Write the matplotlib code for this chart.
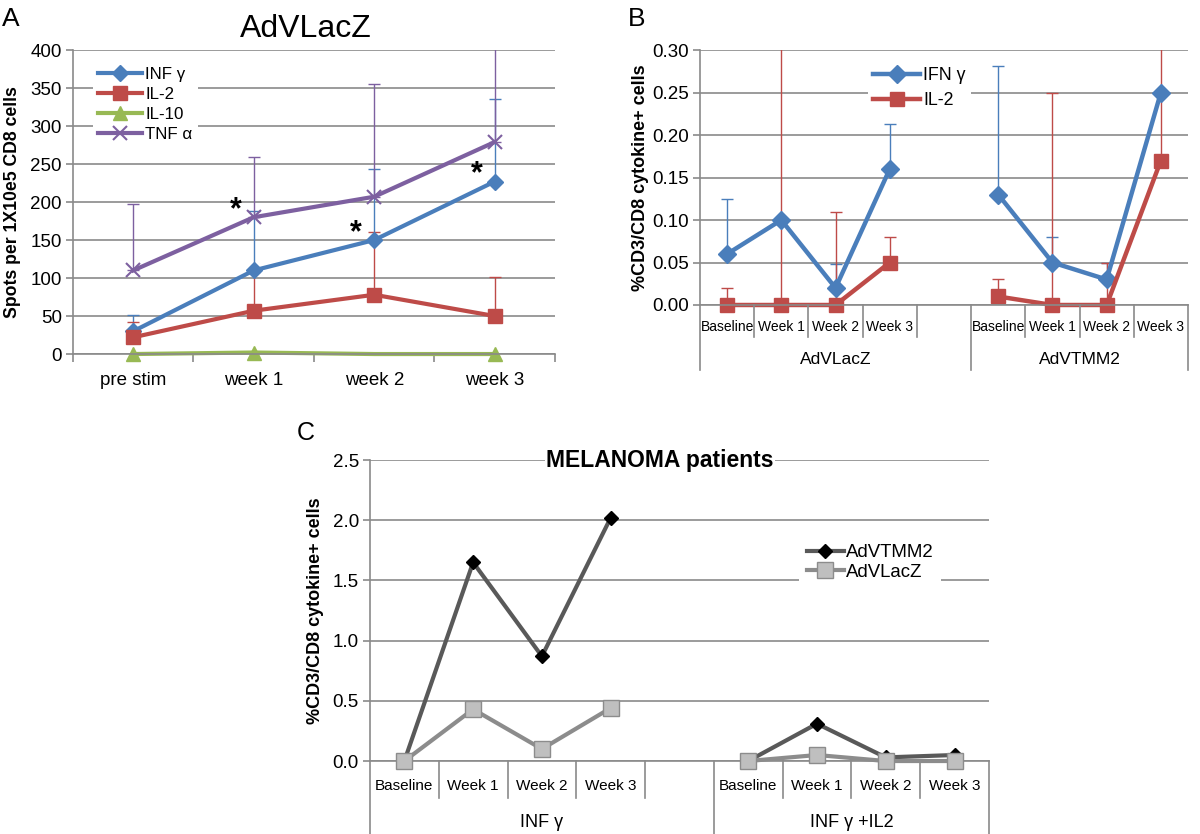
import numpy as np
import matplotlib.pyplot as plt

plt.rcParams['font.family'] = ['Liberation Sans', 'DejaVu Sans']

# ---------------- panel A data (AdVLacZ, ELISPOT)
a_cats = ['pre stim', 'week 1', 'week 2', 'week 3']
a_names = ['INF γ', 'IL-2', 'IL-10', 'TNF α']
a_inf = [30, 110, 150, 227]
a_il2 = [22, 57, 78, 50]
a_il10 = [0, 2, 0, 0]
a_tnf = [110, 180, 207, 279]
# top of the (upper only) error bars
a_inf_top = [51, 188, 243, 336]
a_il2_top = [42, 108, 160, 101]
a_il10_top = [np.nan, np.nan, np.nan, np.nan]
a_tnf_top = [197, 259, 355, 430]
# significance stars: (category index, series value it sits next to)
a_star_idx = [1, 2, 3]
a_star_val = [180, 150, 227]

# ---------------- panel B data
b_cats = ['Baseline', 'Week 1', 'Week 2', 'Week 3']
b_groups = ['AdVLacZ', 'AdVTMM2']
b_names = ['IFN γ', 'IL-2']
b_ifn_lacz = [0.06, 0.10, 0.02, 0.16]
b_ifn_tmm2 = [0.13, 0.05, 0.03, 0.25]
b_il2_lacz = [0.00, 0.00, 0.00, 0.05]
b_il2_tmm2 = [0.01, 0.00, 0.00, 0.17]
b_ifn_lacz_top = [0.125, np.nan, 0.048, 0.213]
b_ifn_tmm2_top = [0.281, 0.080, 0.050, np.nan]
b_il2_lacz_top = [0.020, 0.40, 0.110, 0.080]
b_il2_tmm2_top = [0.030, 0.250, 0.050, 0.40]

# ---------------- panel C data (MELANOMA patients)
c_cats = ['Baseline', 'Week 1', 'Week 2', 'Week 3']
c_groups = ['INF γ', 'INF γ +IL2']
c_names = ['AdVTMM2', 'AdVLacZ']
c_tmm2_inf = [0.0, 1.65, 0.87, 2.02]
c_tmm2_infil2 = [0.0, 0.31, 0.03, 0.05]
c_lacz_inf = [0.0, 0.43, 0.10, 0.44]
c_lacz_infil2 = [0.0, 0.05, 0.0, 0.0]

blue, red, green, purple = '#4A7EBB', '#BE4B48', '#98B954', '#7D60A0'
grid_c = '#8a8a8a'

fig = plt.figure(figsize=(12, 8.34), dpi=100)
axA = fig.add_axes([0.0608, 0.5755, 0.4017, 0.3645])
axB = fig.add_axes([0.5833, 0.6343, 0.4067, 0.3057])
axC = fig.add_axes([0.3083, 0.0875, 0.5158, 0.3609])


def style(ax):
    for s in ['top', 'right']:
        ax.spines[s].set_visible(False)
    for s in ['left', 'bottom']:
        ax.spines[s].set_color(grid_c)
        ax.spines[s].set_linewidth(1.2)
    ax.yaxis.grid(True, color=grid_c, linewidth=1.2)
    ax.set_axisbelow(True)
    ax.tick_params(axis='y', length=5, color=grid_c, width=1.2, labelsize=13.5, pad=3)


def upper_err(ax, x, y, top, color):
    x = np.asarray(x, float)
    y = np.asarray(y, float)
    top = np.asarray(top, float)
    ok = np.isfinite(top) & np.isfinite(y)
    ax.errorbar(x[ok], y[ok], yerr=[np.zeros(ok.sum()), top[ok] - y[ok]],
                fmt='none', ecolor=color, elinewidth=1, capsize=4, capthick=1)


def group_axis(ax, cats, groups, d1, d2, ylab, ygrp, fs, fs_grp):
    n = len(cats)
    labels = cats + [''] + cats
    total = len(labels)
    trans = ax.get_xaxis_transform()
    ax.set_xticks([])
    ax.spines['left'].set_visible(False)
    for k in range(total + 1):
        xb = k - 0.5
        depth = d2 if k in (0, n + 1, total) else d1
        top = 1 if k == 0 else 0
        ax.plot([xb, xb], [top, -depth], transform=trans, color=grid_c,
                lw=1.2, clip_on=False)
    for k, lab in enumerate(labels):
        if lab:
            ax.text(k, ylab, lab, transform=trans, ha='center', va='center', fontsize=fs)
    centers = [n / 2.0, n + 0.5 + n / 2.0]
    for cx, g in zip(centers, groups):
        ax.text(cx, ygrp, g, transform=trans, ha='center', va='center', fontsize=fs_grp)
    ax.set_xlim(-0.5, total - 0.5)


# ================= panel A
style(axA)
xa = np.arange(len(a_cats))
for vals, top, col in [(a_inf, a_inf_top, blue), (a_il2, a_il2_top, red),
                       (a_il10, a_il10_top, green), (a_tnf, a_tnf_top, purple)]:
    upper_err(axA, xa, vals, top, col)
axA.plot(xa, a_inf, color=blue, lw=3, marker='D', ms=8, label=a_names[0])
axA.plot(xa, a_il2, color=red, lw=3, marker='s', ms=10, label=a_names[1])
axA.plot(xa, a_il10, color=green, lw=3, marker='^', ms=10, markevery=[0, 1, 3],
         label=a_names[2], clip_on=False)
axA.plot(xa, a_tnf, color=purple, lw=3, marker='x', ms=10, mew=1.5, label=a_names[3])
for i, v in zip(a_star_idx, a_star_val):
    axA.annotate('*', (i, v), xytext=(-13, 5), textcoords='offset points',
                 ha='center', va='center', fontsize=22, fontweight='bold')
axA.set_ylim(0, 400)
axA.set_yticks(np.arange(0, 401, 50))
axA.set_xlim(-0.5, len(a_cats) - 0.5)
axA.set_xticks(xa)
axA.set_xticklabels(a_cats)
axA.set_xticks(np.arange(-0.5, len(a_cats)), minor=True)
axA.tick_params(axis='x', which='major', length=0, labelsize=13.5, pad=13)
axA.tick_params(axis='x', which='minor', length=6, color=grid_c, width=1.2)
axA.set_ylabel('Spots per 1X10e5 CD8 cells', fontsize=12.7, fontweight='bold')
axA.yaxis.set_label_coords(-0.108, 0.5)
legA = axA.legend(loc='center', bbox_to_anchor=(0.15, 0.82), fontsize=12.2, frameon=True,
                  handlelength=2.6, labelspacing=0.3, handletextpad=0.2, borderpad=0.3)
legA.get_frame().set_edgecolor('none')
legA.get_frame().set_alpha(1)
fig.text(306 / 1200, 1 - 37 / 834, 'AdVLacZ', ha='center', va='baseline', fontsize=23)
fig.text(0.002, 0.992, 'A', ha='left', va='top', fontsize=19)

# ================= panel B
style(axB)
xb = np.arange(2 * len(b_cats) + 1)
gap = [np.nan]
ifn = b_ifn_lacz + gap + b_ifn_tmm2
il2 = b_il2_lacz + gap + b_il2_tmm2
upper_err(axB, xb, ifn, b_ifn_lacz_top + gap + b_ifn_tmm2_top, blue)
upper_err(axB, xb, il2, b_il2_lacz_top + gap + b_il2_tmm2_top, red)
axB.plot(xb, ifn, color=blue, lw=3.2, marker='D', ms=9, label=b_names[0])
axB.plot(xb, il2, color=red, lw=3.2, marker='s', ms=10.5, label=b_names[1], clip_on=False)
axB.set_ylim(0, 0.30)
axB.set_yticks(np.arange(0, 0.301, 0.05))
axB.yaxis.set_major_formatter(plt.FormatStrFormatter('%.2f'))
group_axis(axB, b_cats, b_groups, 0.125, 0.255, -0.086, -0.212, 10, 12.5)
axB.set_ylabel('%CD3/CD8 cytokine+ cells', fontsize=13, fontweight='bold')
axB.yaxis.set_label_coords(-0.1045, 0.5)
legB = axB.legend(loc='center', bbox_to_anchor=(0.45, 0.85), fontsize=12.8, frameon=True,
                  handlelength=2.6, labelspacing=0.45, handletextpad=0.2, borderpad=0.3)
legB.get_frame().set_edgecolor('none')
legB.get_frame().set_alpha(1)
fig.text(628 / 1200, 0.992, 'B', ha='left', va='top', fontsize=19)

# ================= panel C
style(axC)
xc = np.arange(2 * len(c_cats) + 1)
tmm2 = c_tmm2_inf + gap + c_tmm2_infil2
lacz = c_lacz_inf + gap + c_lacz_infil2
axC.plot(xc, tmm2, color='#595959', lw=3, marker='D', ms=7, mfc='black', mec='black',
         label=c_names[0], zorder=3)
axC.plot(xc, lacz, color='#8C8C8C', lw=3, marker='s', ms=11, mfc='#BFBFBF', mec='#8C8C8C',
         label=c_names[1], clip_on=False, zorder=4)
axC.set_ylim(0, 2.5)
axC.set_yticks(np.arange(0, 2.51, 0.5))
axC.yaxis.set_major_formatter(plt.FormatStrFormatter('%.1f'))
group_axis(axC, c_cats, c_groups, 0.123, 0.35, -0.083, -0.203, 11, 13)
axC.set_ylabel('%CD3/CD8 cytokine+ cells', fontsize=13, fontweight='bold')
axC.yaxis.set_label_coords(-0.074, 0.5)
legC = axC.legend(loc='center', bbox_to_anchor=(0.808, 0.66), fontsize=13.4, frameon=True,
                  handlelength=2.0, labelspacing=0.12, handletextpad=0.1, borderpad=0.4)
legC.get_frame().set_edgecolor('none')
legC.get_frame().set_alpha(1)
axC.text(0.468, 1.0, 'MELANOMA patients', transform=axC.transAxes, ha='center', va='center',
         fontsize=16.5, fontweight='bold',
         bbox=dict(facecolor='white', edgecolor='none', pad=1))
fig.text(297 / 1200, 1 - 421 / 834, 'C', ha='left', va='top', fontsize=18)

fig.savefig('out.png', dpi=100)
